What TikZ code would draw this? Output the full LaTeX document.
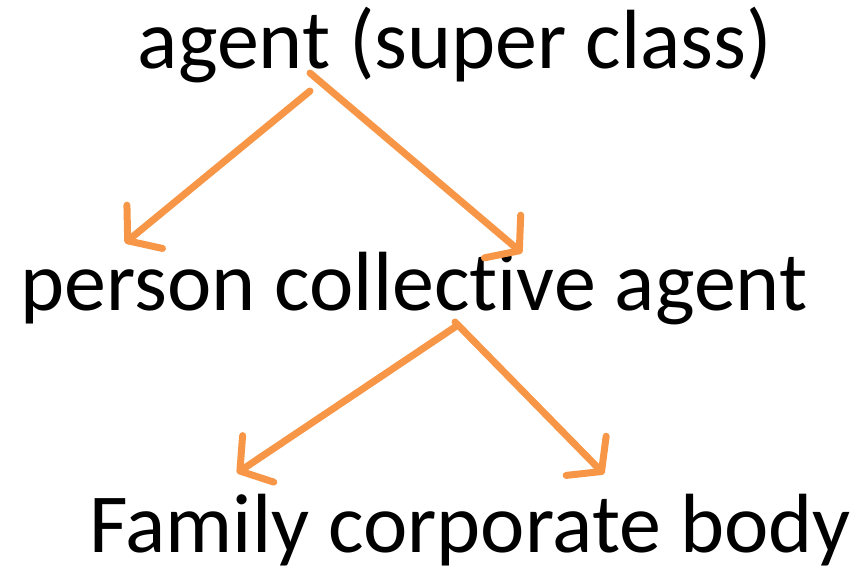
\documentclass[tikz,border=0pt]{standalone}
\usepackage{fontspec}
\setmainfont[Ligatures=NoCommon]{Carlito}
\usepackage{xcolor}
\usetikzlibrary{arrows.meta,positioning}
\definecolor{arroworange}{RGB}{247,150,70}

\begin{document}
\begin{tikzpicture}[x=0.5pt, y=-0.5pt, on grid,
		word/.style   = {font=\fontsize{42}{50}\selectfont, inner sep=0pt, text height=32pt, text depth=9pt},
		isa/.style    = {draw=arroworange, line width=3.5pt, line cap=round,
		                 -{Straight Barb[length=11pt, width=28pt, round]},
		                 preaction={draw=black!15, transform canvas={shift={(1pt,-1pt)}}}}]
			\useasboundingbox (0,0) rectangle (867,575);
			\node[word] (super)      at (455,45)                       {agent (super class)};
			\node[word] (collective) [below left =121pt and 20.5pt of super]      {person collective agent};
			\node[word] (family)     [below right=121pt and 28pt of collective]   {Family corporate body};
			% free ends of the arrows
			\coordinate (superL)  at (310,91);
			\coordinate (superR)  at (310,73);
			\coordinate (person)  at (125,243);
			\coordinate (collect) at (522,253);
			\coordinate (midL)    at (455,327);
			\coordinate (midR)    at (455,322);
			\coordinate (fam)     at (237,473);
			\coordinate (corp)    at (604,474);
				\draw[isa] (superL) -- (person);
				\draw[isa] (superR) -- (collect);
				\draw[isa] (midL)   -- (fam);
				\draw[isa] (midR)   -- (corp);
		\end{tikzpicture}
\end{document}
